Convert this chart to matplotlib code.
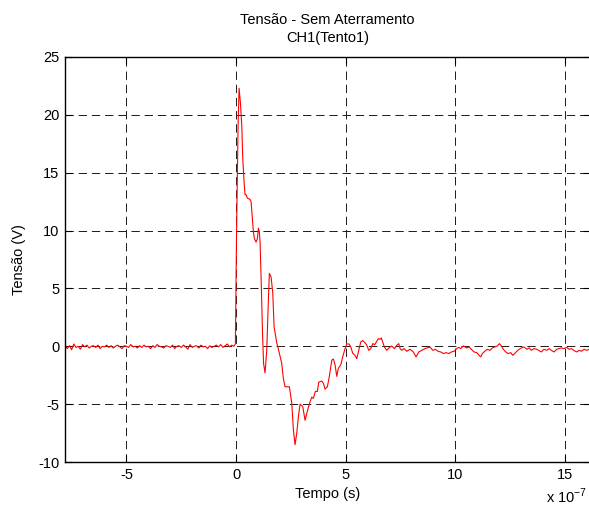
import numpy as np
import matplotlib
matplotlib.use("Agg")
import matplotlib.pyplot as plt

plt.rcParams['font.family'] = ['Liberation Sans', 'DejaVu Sans']
plt.rcParams['lines.scale_dashes'] = False
plt.rcParams['axes.unicode_minus'] = False

# Time axis in units of 1e-7 s
pre_t = np.linspace(-7.8, -0.1, 78)
pre_v = [0.1, -0.2, 0.05, -0.3, 0.2, -0.1, 0.0, -0.25, 0.15, -0.05,
         0.1, -0.15, 0.0, 0.05, -0.1, 0.1, -0.2, 0.0, -0.05, 0.1,
         -0.1, 0.05, -0.15, 0.0, 0.1, -0.05, -0.2, 0.05, 0.0, -0.1,
         0.15, -0.05, 0.0, -0.15, 0.05, -0.1, 0.1, -0.05, 0.0, -0.2,
         0.05, -0.1, 0.15, 0.0, -0.05, -0.15, 0.05, 0.0, -0.1, 0.1,
         -0.2, 0.0, 0.05, -0.1, 0.1, -0.05, -0.25, 0.15, -0.1, 0.0,
         0.05, -0.15, 0.1, -0.05, 0.0, -0.2, 0.05, -0.1, 0.0, 0.1,
         -0.05, 0.15, -0.1, 0.05, 0.2, -0.05, 0.1, 0.0]

pulse_t = [-0.032, 0.023, 0.091, 0.137, 0.196, 0.260, 0.306, 0.365, 0.410, 0.456,
           0.515, 0.638, 0.684, 0.743, 0.789, 0.834, 0.912, 0.971, 1.017, 1.062,
           1.094, 1.140, 1.208, 1.254, 1.322, 1.400, 1.473, 1.518, 1.596, 1.674,
           1.733, 1.856, 1.974, 2.084, 2.157, 2.234, 2.430, 2.540, 2.613, 2.690,
           2.768, 2.841, 2.918, 3.041, 3.146, 3.251, 3.374, 3.452, 3.525, 3.616,
           3.707, 3.771, 3.908, 3.981, 4.058, 4.163, 4.254, 4.364, 4.437, 4.514,
           4.592, 4.665, 4.774, 4.865, 4.970, 5.048, 5.153]
pulse_v = [0.2, 10.0, 19.0, 22.3, 21.1, 19.1, 16.2, 14.2, 13.1, 13.1,
           12.8, 12.7, 12.5, 11.1, 9.9, 9.3, 9.0, 9.3, 10.2, 9.9,
           9.0, 6.0, 1.0, -1.5, -2.3, -0.3, 4.0, 6.3, 6.0, 4.6,
           1.7, 0.3, -0.6, -1.5, -2.8, -3.5, -3.5, -4.9, -7.2, -8.5,
           -7.5, -6.1, -5.0, -5.2, -6.4, -5.6, -4.8, -4.4, -4.5, -3.9,
           -3.9, -3.1, -3.0, -3.2, -3.7, -3.5, -2.6, -1.2, -1.1, -1.6,
           -2.6, -1.9, -1.6, -0.9, -0.2, 0.2, 0.2]

tail_t = [5.230, 5.321, 5.426, 5.504, 5.577, 5.686, 5.777, 5.882, 5.960, 6.051,
          6.142, 6.234, 6.325, 6.416, 6.489, 6.566, 6.626, 6.689, 6.762, 6.872,
          6.977, 7.100, 7.218, 7.328, 7.419, 7.478, 7.556, 7.661, 7.784, 7.934,
          8.085, 8.208, 8.331, 8.468, 8.618, 8.723, 8.846, 8.969, 9.088, 9.211,
          9.334, 9.453, 9.576, 9.699, 9.818, 9.941, 10.064, 10.155, 10.246, 10.365,
          10.520, 10.625, 10.730, 10.853, 10.976, 11.081, 11.158, 11.231, 11.341, 11.459,
          11.582, 11.687, 11.797, 11.915, 12.006, 12.098, 12.189, 12.298, 12.403, 12.526,
          12.617, 12.709, 12.800, 12.905, 13.010, 13.133, 13.256, 13.361, 13.466, 13.589,
          13.712, 13.817, 13.922, 14.045, 14.168, 14.273, 14.377, 14.500, 14.623, 14.728,
          14.833, 14.956, 15.080, 15.185, 15.290, 15.413, 15.536, 15.641, 15.746, 15.869,
          15.991, 16.096]
tail_v = [-0.05, -0.6, -0.8, -1.07, -0.5, 0.37, 0.5, 0.3, 0.1, -0.35,
          -0.2, 0.23, 0.14, 0.43, 0.66, 0.6, 0.72, 0.37, -0.06, -0.35,
          -0.14, 0.03, -0.2, 0.09, 0.23, -0.2, -0.35, -0.2, -0.43, -0.26,
          -0.49, -0.92, -0.49, -0.35, -0.2, -0.14, -0.06, -0.35, -0.26, -0.43,
          -0.49, -0.63, -0.55, -0.63, -0.49, -0.43, -0.2, -0.09, -0.2, 0.03,
          -0.14, -0.06, -0.26, -0.49, -0.55, -0.78, -0.92, -0.63, -0.43, -0.26,
          -0.35, -0.14, -0.06, 0.03, 0.23, 0.03, -0.26, -0.49, -0.63, -0.55,
          -0.78, -0.63, -0.43, -0.26, -0.14, -0.06, -0.26, -0.14, -0.35, -0.2,
          -0.26, -0.37, -0.49, -0.26, -0.35, -0.2, -0.35, -0.49, -0.26, -0.2,
          -0.14, -0.2, -0.09, -0.26, -0.2, -0.37, -0.49, -0.35, -0.43, -0.26,
          -0.35, -0.26]

x_ticks = [-5, 0, 5, 10, 15]
y_ticks = [-10, -5, 0, 5, 10, 15, 20, 25]

t = np.concatenate([pre_t, pulse_t, tail_t])
v = np.concatenate([pre_v, pulse_v, tail_v])

fig = plt.figure(figsize=(5.89, 5.13), dpi=100)
ax = fig.add_axes([0.1104, 0.0994, 0.8913, 0.7895])
ax.plot(t, v, color='#ff0000', lw=0.8)

ax.set_xlim(-7.8, 16.14)
ax.set_ylim(-10, 25)
ax.set_xticks(x_ticks)
ax.set_yticks(y_ticks)
ax.tick_params(direction='in', top=True, right=True, length=5, width=0.8,
               labelsize=10.5, pad=4, colors='black')
ax.grid(True, color='#1a1a1a', linestyle=(0, (6, 3.5)), linewidth=0.7)
for s in ax.spines.values():
    s.set_linewidth(1.0)

ax.set_title('Tensão - Sem Aterramento\nCH1(Tento1)', fontsize=10.5, pad=11,
             linespacing=1.35)
ax.set_xlabel('Tempo (s)', fontsize=10.5, labelpad=4)
ax.set_ylabel('Tensão (V)', fontsize=10.5, labelpad=9)
fig.text(0.997, 0.014, r'x 10$^{\mathregular{-7}}$', ha='right', va='bottom',
         fontsize=10.5)

fig.savefig('out.png', dpi=100)
